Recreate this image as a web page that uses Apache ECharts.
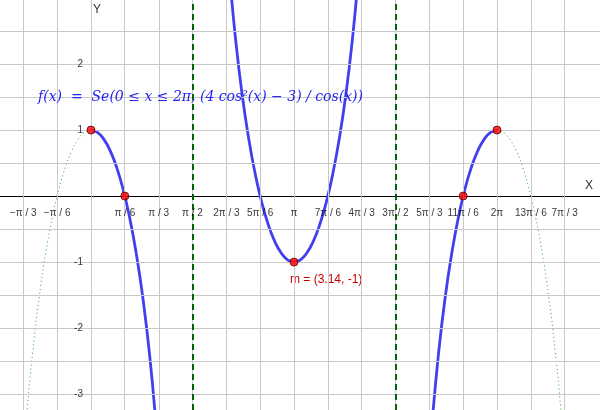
<!DOCTYPE html>
<html><head><meta charset="utf-8">
<script src="https://cdn.jsdelivr.net/npm/echarts@6/dist/echarts.min.js"></script>
<style>html,body{margin:0;padding:0;background:#fff}#c{width:600px;height:410px}</style>
</head><body><div id="c"></div>
<script>
var PI = Math.PI;
// f(x) samples
var blueLeft = [[0,1],[0.1,0.965],[0.2,0.859],[0.3,0.681],[0.4,0.427],[0.5,0.092],[0.6,-0.334],[0.7,-0.864],[0.8,-1.519],[0.9,-2.34],[1.0,-3.391],[1.1,-4.8]];
var blueMid = [[2.0416,4.8],[2.1416,3.391],[2.2416,2.34],[2.3416,1.519],[2.4416,0.864],[2.5416,0.334],[2.6416,-0.092],[2.7416,-0.427],[2.8416,-0.681],[2.9416,-0.859],[3.0416,-0.965],[3.1416,-1],
  [3.2416,-0.965],[3.3416,-0.859],[3.4416,-0.681],[3.5416,-0.427],[3.6416,-0.092],[3.7416,0.334],[3.8416,0.864],[3.9416,1.519],[4.0416,2.34],[4.1416,3.391],[4.2416,4.8]];
var blueRight = [[5.1832,-4.8],[5.2832,-3.391],[5.3832,-2.34],[5.4832,-1.519],[5.5832,-0.864],[5.6832,-0.334],[5.7832,0.092],[5.8832,0.427],[5.9832,0.681],[6.0832,0.859],[6.1832,0.965],[6.2832,1]];
var dotLeft = [[-1.1,-4.8],[-1.0,-3.391],[-0.9,-2.34],[-0.8,-1.519],[-0.7,-0.864],[-0.6,-0.334],[-0.5,0.092],[-0.4,0.427],[-0.3,0.681],[-0.2,0.859],[-0.1,0.965],[0,1]];
var dotRight = [[6.2832,1],[6.3832,0.965],[6.4832,0.859],[6.5832,0.681],[6.6832,0.427],[6.7832,0.092],[6.8832,-0.334],[6.9832,-0.864],[7.0832,-1.519],[7.1832,-2.34],[7.2832,-3.391],[7.3832,-4.8]];
var redPoints = [[0,1],[0.5236,0],[3.1416,-1],[5.7596,0],[6.2832,1]];
var asymptotes = [1.5708, 4.7124];
var xTickK = [-2,-1,1,2,3,4,5,6,7,8,9,10,11,12,13,14];
var xTickNames = ['−π / 3','−π / 6','π / 6','π / 3','π / 2','2π / 3','5π / 6','π','7π / 6','4π / 3','3π / 2','5π / 3','11π / 6','2π','13π / 6','7π / 3'];
var yTicks = [-3,-2,-1,1,2];
var yTickNames = ['-3','-2','-1','1','2'];
var yGrid = [-3,-2.5,-2,-1.5,-1,-0.5,0.5,1,1.5,2,2.5];

var vGridLines = [];
for (var k = -2; k <= 14; k++) vGridLines.push({xAxis: k*PI/6});
var hGridLines = yGrid.map(function(v){return {yAxis: v};});

var chart = echarts.init(document.getElementById('c'));
var blueStyle = {color:'#4040f0', width:2.8};
var dotStyle = {color:'#22aa22', width:1, type:[1,3]};
chart.setOption({
  animation:false,
  grid:{left:0,right:0,top:0,bottom:0},
  xAxis:{type:'value',min:-1.408,max:7.877,splitLine:{show:false},axisLabel:{show:false},axisTick:{show:false},
    axisLine:{onZero:true,lineStyle:{color:'#000',width:1}}},
  yAxis:{type:'value',min:-3.24,max:2.97,splitLine:{show:false},axisLabel:{show:false},axisTick:{show:false},
    axisLine:{show:true,onZero:true,lineStyle:{color:'#000',width:1}}},
  graphic:[
    {type:'text',left:585,top:180,style:{text:'X',fill:'#333',font:'12px sans-serif'}},
    {type:'text',left:93,top:4,style:{text:'Y',fill:'#333',font:'12px sans-serif'}},
    {type:'text',left:290,top:274,style:{text:'m = (3.14, -1)',fill:'#cc0000',font:'12px sans-serif'}},
    {type:'text',left:38,top:90,z:10,style:{fill:'#2222ee',font:'italic 14px "DejaVu Serif"',
      text:'f(x)  =  Se(0 ≤ x ≤ 2π, (4 cos²(x) − 3) / cos(x))'}}
  ],
  series:[
    {type:'line',data:[],silent:true,markLine:{symbol:'none',silent:true,label:{show:false},lineStyle:{color:'#c8c8c8',width:1,type:'solid'},data:vGridLines.concat(hGridLines)}},
    {type:'line',data:[],silent:true,markLine:{symbol:'none',label:{show:false},lineStyle:{color:'#006400',width:2,type:[6,4]},data:asymptotes.map(function(a){return {xAxis:a};})}},
    {type:'line',data:dotLeft,smooth:true,showSymbol:false,lineStyle:dotStyle},
    {type:'line',data:dotRight,smooth:true,showSymbol:false,lineStyle:dotStyle},
    {type:'line',data:blueLeft,smooth:true,showSymbol:false,lineStyle:blueStyle},
    {type:'line',data:blueMid,smooth:true,showSymbol:false,lineStyle:blueStyle},
    {type:'line',data:blueRight,smooth:true,showSymbol:false,lineStyle:blueStyle},
    {type:'scatter',data:redPoints,symbolSize:8,itemStyle:{color:'#ff0000',borderColor:'#550000',borderWidth:1},z:5},
    {type:'scatter',symbolSize:0,silent:true,z:6,data:xTickK.map(function(k,i){return {value:[k*PI/6,0],name:xTickNames[i]};}),
      label:{show:true,position:'bottom',distance:12,formatter:'{b}',color:'#000',fontSize:10,fontFamily:'sans-serif'}},
    {type:'scatter',symbolSize:0,silent:true,z:6,data:yTicks.map(function(v,i){return {value:[0,v],name:yTickNames[i]};}),
      label:{show:true,position:'left',distance:8,formatter:function(p){return p.name;},color:'#000',fontSize:10,fontFamily:'sans-serif'}}
  ]
});
</script></body></html>
